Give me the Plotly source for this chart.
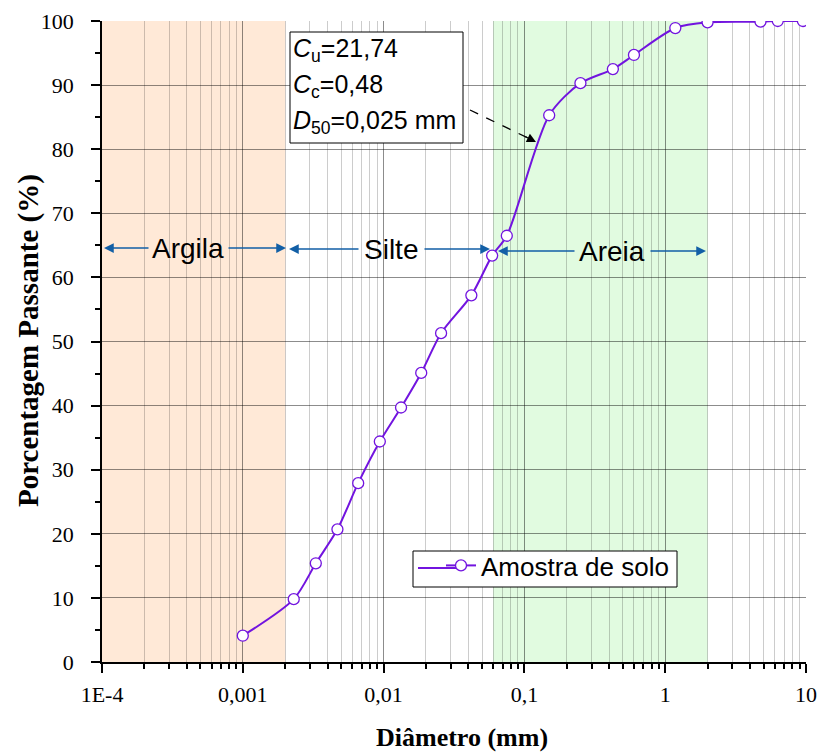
import plotly.graph_objects as go

# ---- data ----
diametro_mm = [0.001, 0.0023, 0.0033, 0.0047, 0.0066, 0.0094, 0.0133, 0.0185, 0.0256,
               0.042, 0.059, 0.075, 0.15, 0.25, 0.425, 0.6, 1.18, 2.0, 4.75, 6.3, 9.5]
passante_pct = [4.1, 9.8, 15.4, 20.7, 27.9, 34.4, 39.7, 45.1, 51.3,
                57.2, 63.4, 66.5, 85.3, 90.3, 92.5, 94.7, 98.9, 99.8, 99.9, 100.0, 100.0]
serie_nome = "Amostra de solo"

x_tick_vals = [1e-4, 1e-3, 1e-2, 1e-1, 1, 10]
x_tick_text = ["1E-4", "0,001", "0,01", "0,1", "1", "10"]

faixas = {"Argila": (1e-4, 0.002), "Silte": (0.002, 0.06), "Areia": (0.06, 2.0)}

# ---- geometry helpers (pixel -> paper) ----
L, R, T, B = 102, 806, 21, 662
def px(x):
    return (x - L) / (R - L)
def py(y):
    return (B - y) / (B - T)

SERIF = "Times New Roman, Liberation Serif, serif"
SANS = "Arial, Liberation Sans, sans-serif"
PURPLE = "#7214DF"
BLUE = "#125FA6"

fig = go.Figure()
fig.add_trace(go.Scatter(
    x=diametro_mm, y=passante_pct, mode="lines+markers", name=serie_nome,
    line=dict(color=PURPLE, width=2, shape="spline", smoothing=0.8),
    marker=dict(symbol="circle", size=11, color="white", line=dict(color=PURPLE, width=1.3)),
))

shapes = []
fills = {"Argila": "#FFE9D7", "Areia": "#E1FBE0"}
for nome, cor in fills.items():
    x0, x1 = faixas[nome]
    shapes.append(dict(type="rect", xref="x", yref="paper", x0=x0, x1=x1, y0=0, y1=1,
                       fillcolor=cor, line=dict(width=0), layer="below"))

# info box
shapes.append(dict(type="rect", xref="paper", yref="paper", x0=px(290), x1=px(463),
                   y0=py(143), y1=py(32), fillcolor="white", line=dict(color="black", width=1),
                   layer="above"))
# dashed pointer line
shapes.append(dict(type="line", xref="paper", yref="paper", x0=px(470), y0=py(110),
                   x1=px(528), y1=py(138), line=dict(color="black", width=1.3, dash="dash")))
# legend frame
shapes.append(dict(type="rect", xref="paper", yref="paper", x0=px(413), x1=px(677),
                   y0=py(587), y1=py(551), fillcolor="white", line=dict(color="black", width=1),
                   layer="above"))
shapes.append(dict(type="line", xref="paper", yref="paper", x0=px(418), x1=px(458),
                   y0=py(568), y1=py(568), line=dict(color=PURPLE, width=2), layer="above"))

annotations = []
box_lines = ["<i>C</i><sub>u</sub>=21,74", "<i>C</i><sub>c</sub>=0,48",
             "<i>D</i><sub>50</sub>=0,025 mm"]
for txt, yc in zip(box_lines, [50, 86, 122]):
    annotations.append(dict(xref="paper", yref="paper", x=px(291), y=py(yc), text=txt,
                            showarrow=False, xanchor="left", yanchor="middle",
                            font=dict(family=SANS, size=25, color="black")))
# arrow head of pointer
annotations.append(dict(xref="paper", yref="paper", x=px(536), y=py(142), text="",
                        showarrow=True, arrowhead=2, arrowsize=1.4, arrowwidth=1.3,
                        arrowcolor="black", ax=-12, ay=-6))

# soil class labels with arrows
labels = [("Argila", 188, 248, 150, 104, 227, 286),
          ("Silte", 391, 249, 360, 289, 423, 490),
          ("Areia", 612, 251, 576, 498, 649, 706)]
for nome, xc, yc, lt, lh, rt, rh in labels:
    annotations.append(dict(xref="paper", yref="paper", x=px(xc), y=py(yc), text=nome,
                            showarrow=False, xanchor="center", yanchor="middle",
                            font=dict(family=SANS, size=28, color="black")))
    annotations.append(dict(xref="paper", yref="paper", x=px(lh), y=py(yc), text="",
                            showarrow=True, arrowhead=2, arrowsize=1.3, arrowwidth=1.5,
                            arrowcolor=BLUE, ax=lt - lh, ay=0))
    annotations.append(dict(xref="paper", yref="paper", x=px(rh), y=py(yc), text="",
                            showarrow=True, arrowhead=2, arrowsize=1.3, arrowwidth=1.5,
                            arrowcolor=BLUE, ax=rt - rh, ay=0))

# axis titles
annotations.append(dict(xref="paper", yref="paper", x=px(28), y=py(341),
                        text="<b>Porcentagem Passante (%)</b>", textangle=-90, showarrow=False,
                        xanchor="center", yanchor="middle",
                        font=dict(family=SERIF, size=29, color="black")))
annotations.append(dict(xref="paper", yref="paper", x=px(462), y=py(737),
                        text="<b>Diâmetro (mm)</b>", showarrow=False,
                        xanchor="center", yanchor="middle",
                        font=dict(family=SERIF, size=26, color="black")))

minor_x = [m * 10.0 ** e for e in range(-4, 1) for m in range(2, 10)]

fig.update_layout(
    width=821, height=753,
    margin=dict(l=L, r=821 - R, t=T, b=753 - B, autoexpand=False),
    paper_bgcolor="white", plot_bgcolor="white",
    shapes=shapes, annotations=annotations,
    showlegend=True,
    legend=dict(x=px(441), y=py(542), xanchor="left", yanchor="top",
                bgcolor="rgba(0,0,0,0)", borderwidth=0,
                font=dict(family=SANS, size=26, color="black"),
                tracegroupgap=0, itemwidth=30),
    xaxis=dict(type="log", range=[-4, 1], tickmode="array", tickvals=x_tick_vals,
               ticktext=x_tick_text, ticks="outside", ticklen=9, tickwidth=1.5,
               tickcolor="black", showline=True, linecolor="black", linewidth=1.5,
               showgrid=True, gridcolor="rgba(0,0,0,0.45)", gridwidth=1,
               tickfont=dict(family=SERIF, size=22, color="black"),
               minor=dict(tickmode="array", tickvals=minor_x, ticks="outside", ticklen=5,
                          tickwidth=1.5, tickcolor="black", showgrid=True,
                          gridcolor="rgba(0,0,0,0.2)", gridwidth=1),
               zeroline=False, ticklabelstandoff=3, automargin=False),
    yaxis=dict(range=[0, 100], dtick=10, tick0=0, ticks="outside", ticklen=9, tickwidth=1.5,
               tickcolor="black", showline=True, linecolor="black", linewidth=1.5,
               showgrid=True, gridcolor="rgba(0,0,0,0.45)", gridwidth=1,
               tickfont=dict(family=SERIF, size=22, color="black"),
               minor=dict(dtick=5, ticks="outside", ticklen=5, tickwidth=1.5,
                          tickcolor="black", showgrid=False),
               zeroline=False, ticklabelstandoff=13, automargin=False),
)

fig.write_html("out.html")
